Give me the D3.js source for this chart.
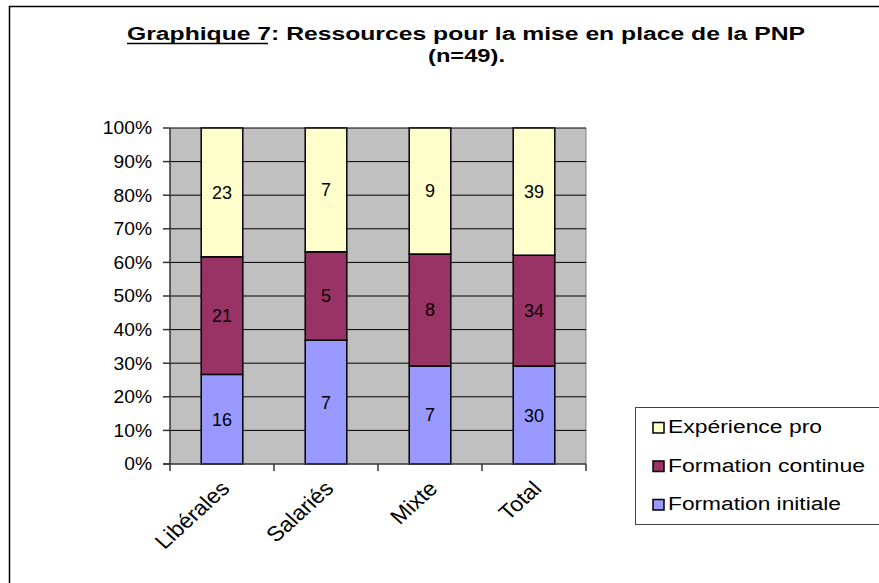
<!DOCTYPE html>
<html>
<head>
<meta charset="utf-8">
<script src="https://cdn.jsdelivr.net/npm/d3@7"></script>
<style>
  body { margin: 0; background: #fff; }
  svg { display: block; }
  text { font-family: Arial, "Liberation Sans", sans-serif; fill: #000; }
</style>
</head>
<body>
<script>
// data (counts per group)
var categories = ["Libérales", "Salariés", "Mixte", "Total"];
var seriesNames = ["Formation initiale", "Formation continue", "Expérience pro"];
var seriesColors = ["#9999FF", "#993366", "#FFFFCC"];
var formationInitiale = [16, 7, 7, 30];
var formationContinue = [21, 5, 8, 34];
var experiencePro = [23, 7, 9, 39];
var yTicks = [0, 0.1, 0.2, 0.3, 0.4, 0.5, 0.6, 0.7, 0.8, 0.9, 1];

var w = 879,
    h = 583;

var svg = d3.select("body").append("svg")
    .attr("width", w)
    .attr("height", h);

svg.append("rect")
    .attr("width", w)
    .attr("height", h)
    .attr("fill", "#fff");

// outer chart frame (runs off the right and bottom edges)
svg.append("rect")
    .attr("x", 9.5)
    .attr("y", 6.5)
    .attr("width", 950)
    .attr("height", 650)
    .attr("fill", "none")
    .attr("stroke", "#000")
    .attr("stroke-width", 1.5);

// title
svg.append("text")
    .attr("x", 127)
    .attr("y", 40)
    .attr("textLength", 678)
    .attr("lengthAdjust", "spacingAndGlyphs")
    .style("font-size", "18px")
    .style("font-weight", "bold")
    .text("Graphique 7: Ressources pour la mise en place de la PNP");

svg.append("line")
    .attr("x1", 127)
    .attr("x2", 268)
    .attr("y1", 43.5)
    .attr("y2", 43.5)
    .attr("stroke", "#000")
    .attr("stroke-width", 1.5);

svg.append("text")
    .attr("x", 428)
    .attr("y", 62)
    .attr("textLength", 77)
    .attr("lengthAdjust", "spacingAndGlyphs")
    .style("font-size", "18px")
    .style("font-weight", "bold")
    .text("(n=49).");

// scales
var plotL = 170, plotR = 586, plotT = 128, plotB = 464;

var x = d3.scaleBand()
    .domain(categories)
    .range([plotL, plotR])
    .paddingInner(0.6)
    .paddingOuter(0.3);

var y = d3.scaleLinear()
    .domain([0, 1])
    .range([plotB, plotT]);

// plot area
svg.append("rect")
    .attr("x", plotL)
    .attr("y", plotT)
    .attr("width", plotR - plotL)
    .attr("height", plotB - plotT)
    .attr("fill", "#C0C0C0");

svg.append("line")
    .attr("x1", plotR)
    .attr("x2", plotR)
    .attr("y1", plotT)
    .attr("y2", plotB)
    .attr("stroke", "#808080")
    .attr("stroke-width", 1);

// gridlines
svg.selectAll(".grid")
    .data(yTicks.slice(1))
    .enter().append("line")
    .attr("x1", plotL)
    .attr("x2", plotR)
    .attr("y1", function(d) { return y(d); })
    .attr("y2", function(d) { return y(d); })
    .attr("stroke", "#000")
    .attr("stroke-width", 1);

// stacked percentages
var rows = categories.map(function(c, i) {
  return {
    cat: c,
    "Formation initiale": formationInitiale[i],
    "Formation continue": formationContinue[i],
    "Expérience pro": experiencePro[i]
  };
});

var stack = d3.stack()
    .keys(seriesNames)
    .offset(d3.stackOffsetExpand);

var layers = stack(rows);

var groups = svg.selectAll(".layer")
    .data(layers)
    .enter().append("g")
    .attr("fill", function(d, i) { return seriesColors[i]; });

groups.selectAll("rect")
    .data(function(d) { return d; })
    .enter().append("rect")
    .attr("x", function(d) { return x(d.data.cat); })
    .attr("y", function(d) { return y(d[1]); })
    .attr("width", x.bandwidth())
    .attr("height", function(d) { return y(d[0]) - y(d[1]); })
    .attr("stroke", "#000")
    .attr("stroke-width", 1.5);

// data labels
layers.forEach(function(layer) {
  svg.selectAll(null)
      .data(layer)
      .enter().append("text")
      .attr("x", function(d) { return x(d.data.cat) + x.bandwidth() / 2; })
      .attr("y", function(d) { return (y(d[0]) + y(d[1])) / 2; })
      .attr("dy", "0.36em")
      .attr("text-anchor", "middle")
      .style("font-size", "18px")
      .text(function(d) { return d.data[layer.key]; });
});

// axes lines
var axisCol = "#333";
svg.append("line")
    .attr("x1", plotL).attr("x2", plotL)
    .attr("y1", plotT).attr("y2", plotB + 0.5)
    .attr("stroke", axisCol).attr("stroke-width", 1.5);
svg.append("line")
    .attr("x1", plotL - 7).attr("x2", plotR)
    .attr("y1", plotB).attr("y2", plotB)
    .attr("stroke", axisCol).attr("stroke-width", 1.5);

// y ticks and labels
svg.selectAll(".ytick")
    .data(yTicks)
    .enter().append("line")
    .attr("x1", plotL - 7)
    .attr("x2", plotL)
    .attr("y1", function(d) { return y(d); })
    .attr("y2", function(d) { return y(d); })
    .attr("stroke", axisCol)
    .attr("stroke-width", 1.5);

svg.selectAll(".ylab")
    .data(yTicks)
    .enter().append("text")
    .attr("transform", function(d) { return "translate(152," + y(d) + ") scale(1.1,1)"; })
    .attr("dy", "0.36em")
    .attr("text-anchor", "end")
    .style("font-size", "17.5px")
    .text(function(d) { return Math.round(d * 100) + "%"; });

// x ticks at band boundaries
var edges = categories.map(function(c) { return x(c) - x.step() * x.paddingOuter(); });
edges.push(plotR);
svg.selectAll(".xtick")
    .data(edges)
    .enter().append("line")
    .attr("x1", function(d) { return d; })
    .attr("x2", function(d) { return d; })
    .attr("y1", plotB)
    .attr("y2", plotB + 7)
    .attr("stroke", axisCol)
    .attr("stroke-width", 1.5);

// rotated category labels
svg.selectAll(".xlab")
    .data(categories)
    .enter().append("text")
    .attr("transform", function(d) {
      return "translate(" + (x(d) + x.bandwidth() / 2 - 1) + "," + (plotB + 17) + ") scale(1.1,1) rotate(-45)";
    })
    .attr("text-anchor", "end")
    .attr("dy", "0.6em")
    .style("font-size", "21px")
    .text(function(d) { return d; });

// legend
var legendItems = [
  { name: "Expérience pro", color: seriesColors[2], len: 154 },
  { name: "Formation continue", color: seriesColors[1], len: 197 },
  { name: "Formation initiale", color: seriesColors[0], len: 173 }
];

svg.append("rect")
    .attr("x", 635.5)
    .attr("y", 407.5)
    .attr("width", 300)
    .attr("height", 117)
    .attr("fill", "#fff")
    .attr("stroke", "#444")
    .attr("stroke-width", 1);

var leg = svg.selectAll(".leg")
    .data(legendItems)
    .enter().append("g")
    .attr("transform", function(d, i) { return "translate(653," + (433 + i * 38.5) + ")"; });

leg.append("rect")
    .attr("x", 0)
    .attr("y", -10.5)
    .attr("width", 11)
    .attr("height", 10.5)
    .attr("fill", function(d) { return d.color; })
    .attr("stroke", "#000")
    .attr("stroke-width", 1.5);

leg.append("text")
    .attr("x", 15)
    .attr("y", 0)
    .attr("textLength", function(d) { return d.len; })
    .attr("lengthAdjust", "spacingAndGlyphs")
    .style("font-size", "18px")
    .text(function(d) { return d.name; });
</script>
</body>
</html>
